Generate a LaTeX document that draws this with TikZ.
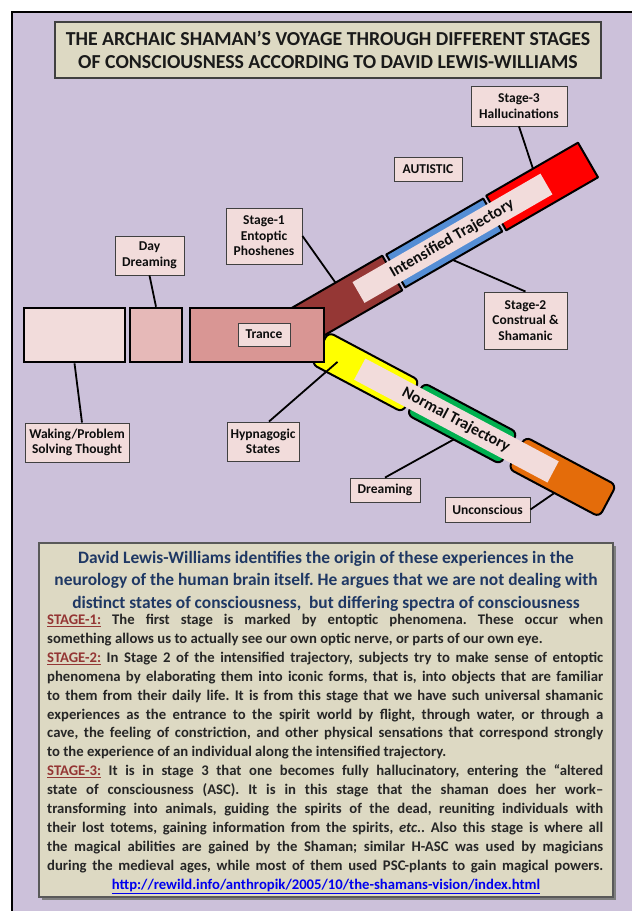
\documentclass[tikz,border=0pt]{standalone}
\usepackage{fontspec}
\setmainfont{Carlito}
\frenchspacing
\newcommand{\stagetag}[1]{\textcolor{943634}{\underline{#1}}}

\begin{document}
\begin{tikzpicture}[x=1pt,y=-1pt,
  tag/.style={rectangle, draw=404040, line width=0.9pt, fill=F2DCDB, inner sep=0pt, align=center, text=0D0D0D, font=\fontsize{13.5}{15.5}\selectfont\bfseries},
  block/.style={rectangle, draw=000000, line width=2.6pt, inner sep=0pt, minimum height=54pt},
  seg/.style={draw=000000, line width=2pt, line join=round},
  stem/.style={draw=000000, line width=1.8pt},
  strip/.style={fill=F2DCDB},
  trajtext/.style={transform shape, inner sep=0pt, text=0D0D0D, font=\fontsize{16}{18}\selectfont\bfseries}]
\definecolor{FFFFFF}{rgb}{1.00000,1.00000,1.00000}
\definecolor{000000}{rgb}{0.00000,0.00000,0.00000}
\definecolor{CCC1DA}{rgb}{0.80000,0.75686,0.85490}
\definecolor{DDD9C3}{rgb}{0.86667,0.85098,0.76471}
\definecolor{F2DCDB}{rgb}{0.94902,0.86275,0.85882}
\definecolor{E6B9B8}{rgb}{0.90196,0.72549,0.72157}
\definecolor{D99694}{rgb}{0.85098,0.58824,0.58039}
\definecolor{953735}{rgb}{0.58431,0.21569,0.20784}
\definecolor{558ED5}{rgb}{0.33333,0.55686,0.83529}
\definecolor{FF0000}{rgb}{1.00000,0.00000,0.00000}
\definecolor{FFFF00}{rgb}{1.00000,1.00000,0.00000}
\definecolor{00B050}{rgb}{0.00000,0.69020,0.31373}
\definecolor{E46C0A}{rgb}{0.89412,0.42353,0.03922}
\definecolor{1F3864}{rgb}{0.12157,0.21961,0.39216}
\definecolor{943634}{rgb}{0.58039,0.21176,0.20392}
\definecolor{0000EE}{rgb}{0.00000,0.00000,0.93333}
\definecolor{404040}{rgb}{0.25098,0.25098,0.25098}
\definecolor{595959}{rgb}{0.34902,0.34902,0.34902}
\definecolor{7F7F7F}{rgb}{0.49804,0.49804,0.49804}
\definecolor{262626}{rgb}{0.14902,0.14902,0.14902}
\definecolor{1A1A1A}{rgb}{0.10196,0.10196,0.10196}
\definecolor{0D0D0D}{rgb}{0.05098,0.05098,0.05098}
\useasboundingbox (0,0) rectangle (632,911);
\fill[color=FFFFFF] (0,0) rectangle (632,911);
\fill[color=CCC1DA] (12,12) rectangle (632,911);
\draw[line width=2pt, color=000000] (12,911) -- (12,12) -- (632,12);
% title
\node[draw=404040, line width=1.2pt, fill=DDD9C3, minimum width=546pt, minimum height=56pt, inner sep=0pt, align=center, text=1A1A1A, font=\fontsize{19.8}{23}\selectfont\bfseries] (title) at (328,50) {THE ARCHAIC SHAMAN’S VOYAGE THROUGH DIFFERENT STAGES\\OF CONSCIOUSNESS ACCORDING TO DAVID LEWIS-WILLIAMS};
% intensified trajectory
\begin{scope}[shift={(588,160)}, rotate=30]
\filldraw[seg, fill=953735] (-360,-20) rectangle (-226,20);
\filldraw[seg, fill=558ED5] (-222,-19) rectangle (-110,19);
\filldraw[seg, fill=FF0000] (-106,-20) rectangle (0,20);
\fill[strip] (-265,-12) rectangle (-48,12);
\node[trajtext] (intense) at (-157,0) {Intensified Trajectory};
\coordinate (s1pin) at (-280,-20);
\coordinate (s2pin) at (-167,19);
\coordinate (s3pin) at (-52,-20);
\end{scope}
% normal trajectory
\begin{scope}[shift={(320,348)}, rotate=-28]
\filldraw[seg, rounded corners=6pt, fill=FFFF00] (0,-18) rectangle (103,18);
\filldraw[seg, rounded corners=6pt, fill=00B050] (108,-18) rectangle (214,18);
\filldraw[seg, rounded corners=6pt, fill=E46C0A] (223,-18) rectangle (326,18);
\fill[strip] (45,-12) rectangle (264,12);
\node[trajtext] (normal) at (154,0) {Normal Trajectory};
\coordinate (hypin) at (22,4);
\coordinate (drmpin) at (161,18);
\coordinate (uncpin) at (275,18);
\end{scope}
% waking states
\node[block, fill=F2DCDB, minimum width=101pt] (wakebox) at (74.5,335) {};
\node[block, fill=E6B9B8, minimum width=52pt] (daybox) at (156,335) {};
\node[block, fill=D99694, minimum width=134pt] (trancebox) at (257,335) {};
\node[tag, minimum width=52pt, minimum height=23pt] (trance) at (264,334.5) {Trance};
% labels
\node[tag, minimum width=69pt, minimum height=39pt] (daydream) at (149.5,255.5) {Day\\Dreaming};
\node[tag, minimum width=76pt, minimum height=56pt] (stage1) at (264,236) {Stage-1\\Entoptic\\Phoshenes};
\node[tag, minimum width=104pt, minimum height=39pt] (waking) at (77,442.5) {Waking/Problem\\Solving Thought};
\node[tag, minimum width=72pt, minimum height=39pt] (hypna) at (263,441.5) {Hypnagogic\\States};
\node[tag, minimum width=68pt, minimum height=24pt] (autistic) at (428,169) {AUTISTIC};
\node[tag, minimum width=96pt, minimum height=40pt] (stage3) at (519,106) {Stage-3\\Hallucinations};
\node[tag, minimum width=83pt, minimum height=57pt] (stage2) at (525.5,320.5) {Stage-2\\Construal \&\\Shamanic};
\node[tag, minimum width=70pt, minimum height=24pt] (dreaming) at (385,490) {Dreaming};
\node[tag, minimum width=85pt, minimum height=25pt] (uncon) at (487.5,509.5) {Unconscious};
\draw[stem] (daydream.south) -- (daybox.north);
\draw[stem] (wakebox.south) -- ([xshift=5pt]waking.north);
\draw[stem] (stage1.east) -- (s1pin);
\draw[stem] (stage2.north) -- (s2pin);
\draw[stem] (stage3.south) -- (s3pin);
\draw[stem] ([xshift=6pt]hypna.north) -- (hypin);
\draw[stem] (dreaming.north) -- (drmpin);
\draw[stem] (uncon.east) -- (uncpin);
% notes
\fill[color=7F7F7F] (42,546) rectangle (616,900);
\node[draw=595959, line width=1.2pt, fill=DDD9C3, minimum width=574pt, minimum height=354pt, inner sep=0pt] (notes) at (326,720) {};
\node[anchor=north, inner sep=0pt, align=center, text=1F3864, font=\fontsize{17.4}{22.5}\selectfont\bfseries] (lead) at (326,551) {David Lewis-Williams identifies the origin of these experiences in the\\neurology of the human brain itself. He argues that we are not dealing with\\distinct states of consciousness, \ but differing spectra of consciousness};
\node[anchor=north west, inner sep=0pt, text width=556pt, align=justify, text=262626, font=\fontsize{14.7}{18.9}\selectfont\bfseries] (stages) at (47,614) {\hyphenpenalty=10000\exhyphenpenalty=10000\tolerance=10000%
\stagetag{STAGE-1:} The first stage is marked by entoptic phenomena. These occur when\linebreak
something allows us to actually see our own optic nerve, or parts of our own eye.\par
\stagetag{STAGE-2:} In Stage 2 of the intensified trajectory, subjects try to make sense of entoptic\linebreak
phenomena by elaborating them into iconic forms, that is, into objects that are familiar\linebreak
to them from their daily life. It is from this stage that we have such universal shamanic\linebreak
experiences as the entrance to the spirit world by flight, through water, or through a\linebreak
cave, the feeling of constriction, and other physical sensations that correspond strongly\linebreak
to the experience of an individual along the intensified trajectory.\par
{\parfillskip=0pt \stagetag{STAGE-3:} It is in stage 3 that one becomes fully hallucinatory, entering the “altered\linebreak
state of consciousness (ASC). It is in this stage that the shaman does her work–\linebreak
transforming into animals, guiding the spirits of the dead, reuniting individuals with\linebreak
their lost totems, gaining information from the spirits, \textit{etc}.. Also this stage is where all\linebreak
the magical abilities are gained by the Shaman; similar H-ASC was used by magicians\linebreak
during the medieval ages, while most of them used PSC-plants to gain magical powers.\par}};
\node[inner sep=0pt, text=0000EE, font=\fontsize{14.7}{16}\selectfont\bfseries] (link) at (326,886) {\underline{http://rewild.info/anthropik/2005/10/the-shamans-vision/index.html}};
\end{tikzpicture}
\end{document}
